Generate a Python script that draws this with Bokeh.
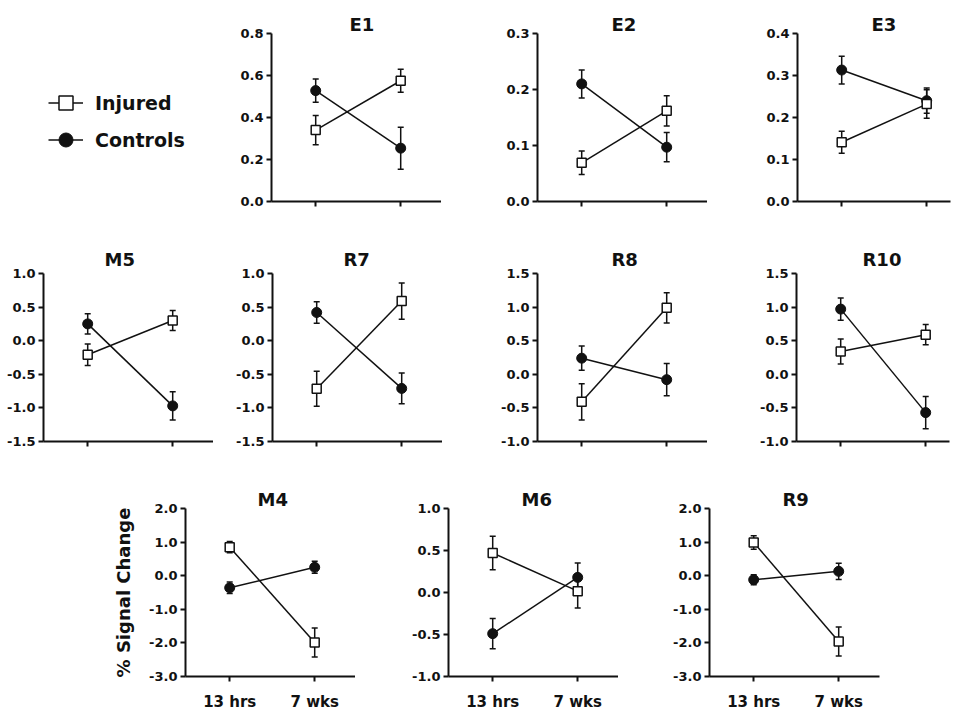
from bokeh.plotting import figure
from bokeh.models import (ColumnDataSource, Range1d, FixedTicker, Whisker, TeeHead,
                          Legend, LegendItem, NumeralTickFormatter)
from bokeh.layouts import column, row
from bokeh.embed import file_html
from bokeh.resources import INLINE

# ---------------- data ----------------
panel_names = ["E1", "E2", "E3", "M5", "R7", "R8", "R10", "M4", "M6", "R9"]
time_points = [0, 1]
time_labels = ["13 hrs", "7 wks"]
series_names = ["Injured", "Controls"]

injured_mean = [[0.34, 0.575], [0.069, 0.162], [0.141, 0.232], [-0.21, 0.30], [-0.715, 0.59],
                [-0.41, 0.99], [0.34, 0.59], [0.85, -1.99], [0.47, 0.016], [0.99, -1.96]]
injured_err = [[0.07, 0.055], [0.021, 0.027], [0.026, 0.034], [0.16, 0.15], [0.26, 0.27],
               [0.27, 0.225], [0.185, 0.15], [0.17, 0.43], [0.2, 0.2], [0.2, 0.43]]
control_mean = [[0.528, 0.254], [0.21, 0.097], [0.313, 0.24], [0.25, -0.97], [0.42, -0.71],
                [0.24, -0.08], [0.97, -0.57], [-0.36, 0.25], [-0.49, 0.18], [-0.12, 0.13]]
control_err = [[0.055, 0.10], [0.025, 0.026], [0.033, 0.03], [0.15, 0.21], [0.16, 0.23],
               [0.18, 0.24], [0.165, 0.24], [0.17, 0.18], [0.18, 0.17], [0.15, 0.24]]
y_ticks = [
    [0.0, 0.2, 0.4, 0.6, 0.8],
    [0.0, 0.1, 0.2, 0.3],
    [0.0, 0.1, 0.2, 0.3, 0.4],
    [-1.5, -1.0, -0.5, 0.0, 0.5, 1.0],
    [-1.5, -1.0, -0.5, 0.0, 0.5, 1.0],
    [-1.0, -0.5, 0.0, 0.5, 1.0, 1.5],
    [-1.0, -0.5, 0.0, 0.5, 1.0, 1.5],
    [-3.0, -2.0, -1.0, 0.0, 1.0, 2.0],
    [-1.0, -0.5, 0.0, 0.5, 1.0],
    [-3.0, -2.0, -1.0, 0.0, 1.0, 2.0],
]
y_axis_title = "% Signal Change"

# ---------------- style ----------------
FONT = "DejaVu Sans"
INK = "#111111"
FRAME_H = 168


def src_for(mean, err):
    return ColumnDataSource(dict(
        x=time_points, y=mean,
        upper=[m + e for m, e in zip(mean, err)],
        lower=[m - e for m, e in zip(mean, err)],
    ))


def add_series(p, i):
    cs = src_for(control_mean[i], control_err[i])
    js = src_for(injured_mean[i], injured_err[i])
    c_line = p.line("x", "y", source=cs, line_color=INK, line_width=1.5)
    j_line = p.line("x", "y", source=js, line_color=INK, line_width=1.5)
    for s in (cs, js):
        w = Whisker(source=s, base="x", upper="upper", lower="lower", dimension="height",
                    line_color=INK, line_width=1.5, level="underlay",
                    upper_head=TeeHead(size=6, line_color=INK, line_width=1.5),
                    lower_head=TeeHead(size=6, line_color=INK, line_width=1.5))
        p.add_layout(w)
    c_pts = p.scatter("x", "y", source=cs, marker="circle", size=10,
                      fill_color=INK, line_color=INK)
    j_pts = p.scatter("x", "y", source=js, marker="square", size=9,
                      fill_color="white", line_color=INK, line_width=1.5)
    return (j_line, j_pts), (c_line, c_pts)


def make_panel(i, frame_w, bl, br, bt, bb, title_standoff, title_offset,
               show_x_labels, ylabel=None):
    yt = y_ticks[i]
    x_end = -0.52 + frame_w / 85.0
    p = figure(frame_width=frame_w, frame_height=FRAME_H,
               x_range=Range1d(-0.52, x_end), y_range=Range1d(yt[0], yt[-1]),
               output_backend="svg", toolbar_location=None,
               min_border_left=bl, min_border_right=br,
               min_border_top=bt, min_border_bottom=bb,
               title=panel_names[i])
    p.title.align = "left"
    p.title.offset = title_offset
    p.title.text_font = FONT
    p.title.text_font_size = "18px"
    p.title.text_font_style = "bold"
    p.title.text_color = INK
    p.title.standoff = title_standoff
    p.grid.visible = False
    p.outline_line_color = None
    p.background_fill_color = "white"
    p.border_fill_color = "white"

    p.axis.axis_line_width = 2
    p.axis.axis_line_color = INK
    p.axis.major_tick_line_width = 2
    p.axis.major_tick_line_color = INK
    p.axis.major_tick_out = 5
    p.axis.major_tick_in = 0
    p.axis.minor_tick_line_color = None
    p.axis.major_label_text_font = FONT
    p.axis.major_label_text_font_style = "bold"
    p.axis.major_label_text_color = INK
    p.axis.major_label_standoff = 3

    p.yaxis.ticker = FixedTicker(ticks=yt)
    p.yaxis.formatter = NumeralTickFormatter(format="0.0")
    p.yaxis.major_label_text_font_size = "13px"

    p.xaxis.ticker = FixedTicker(ticks=time_points)
    p.xaxis.major_label_text_font_size = "15px"
    if show_x_labels:
        p.xaxis.major_label_overrides = {t: lab for t, lab in zip(time_points, time_labels)}
        p.xaxis.major_label_standoff = 11
    else:
        p.xaxis.major_label_overrides = {t: "" for t in time_points}

    if ylabel:
        p.yaxis.axis_label = ylabel
        p.yaxis.axis_label_text_font = FONT
        p.yaxis.axis_label_text_font_size = "18px"
        p.yaxis.axis_label_text_font_style = "bold"
        p.yaxis.axis_label_text_color = INK
        p.yaxis.axis_label_standoff = 12

    add_series(p, i)
    return p


# ---------------- legend panel ----------------
leg = figure(width=220, height=240, x_range=Range1d(5, 6), y_range=Range1d(5, 6),
             x_axis_type=None, y_axis_type=None, output_backend="svg",
             toolbar_location=None, min_border=0)
leg.grid.visible = False
leg.outline_line_color = None
inj_r, ctl_r = add_series(leg, 0)   # drawn off-range, used only for legend glyphs
legend = Legend(items=[LegendItem(label=series_names[0], renderers=list(inj_r)),
                       LegendItem(label=series_names[1], renderers=list(ctl_r))],
                location=(48, 43), glyph_width=35, glyph_height=37, spacing=0,
                padding=0, margin=0, label_standoff=12,
                label_text_font=FONT, label_text_font_size="19px",
                label_text_font_style="bold", label_text_color=INK,
                border_line_color=None, background_fill_alpha=0)
leg.add_layout(legend)

# Row 1
e1 = make_panel(0, 170, 51, 0, 33, 39, -3, 78, False)
e2 = make_panel(1, 170, 96, 0, 33, 39, -3, 74, False)
e3 = make_panel(2, 153, 90, 3, 33, 39, -3, 74, False)

# Row 2
m5 = make_panel(3, 170, 43, 0, 33, 33, 8, 61, False)
r7 = make_panel(4, 170, 59, 0, 33, 33, 8, 71, False)
r8 = make_panel(5, 170, 95, 0, 33, 33, 8, 74, False)
r10 = make_panel(6, 153, 89, 4, 33, 33, 8, 66, False)

# Row 3
m4 = make_panel(7, 170, 185, 0, 34, 32, -2, 72, True, ylabel=y_axis_title)
m6 = make_panel(8, 170, 93, 0, 34, 32, -2, 73, True)
r9 = make_panel(9, 170, 91, 65, 34, 32, -2, 73, True)

layout = column(row(leg, e1, e2, e3), row(m5, r7, r8, r10), row(m4, m6, r9))

open("out.html", "w").write(file_html(layout, INLINE))
